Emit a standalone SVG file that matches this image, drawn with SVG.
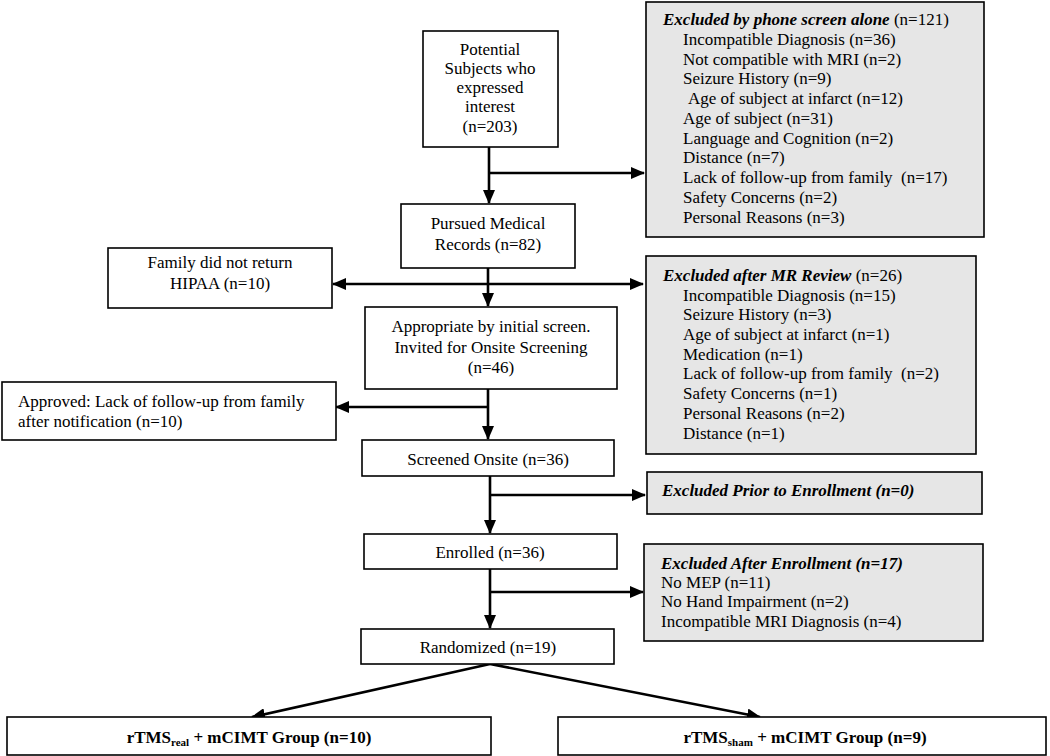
<svg xmlns="http://www.w3.org/2000/svg" width="1050" height="756" viewBox="0 0 1050 756">
<style>
text{font-family:"Liberation Serif","Times New Roman",serif;font-size:17px;fill:#000}
.box{fill:#fff;stroke:#000;stroke-width:1.6}
.gray{fill:#e6e6e6;stroke:#000;stroke-width:1.6}
.c{text-anchor:middle}
.bi{font-weight:bold;font-style:italic}
.b{font-weight:bold}
.con{stroke:#000;stroke-width:2.6;fill:none}
.sub{font-size:11px}
</style>
<defs>
<marker id="ah" markerUnits="userSpaceOnUse" markerWidth="14" markerHeight="12" refX="13" refY="6" orient="auto">
<path d="M0,0 L14,6 L0,12 z" fill="#000"/>
</marker>
</defs>
<rect width="1050" height="756" fill="#fff"/>
<g id="connectors">
<path class="con" d="M489,147 V203" marker-end="url(#ah)"/>
<path class="con" d="M489,173 H644" marker-end="url(#ah)"/>
<path class="con" d="M488,268 V306" marker-end="url(#ah)"/>
<path class="con" d="M488,284 H643" marker-end="url(#ah)"/>
<path class="con" d="M488,284 H333" marker-end="url(#ah)"/>
<path class="con" d="M488,389 V439" marker-end="url(#ah)"/>
<path class="con" d="M488,407 H336" marker-end="url(#ah)"/>
<path class="con" d="M490,476 V533" marker-end="url(#ah)"/>
<path class="con" d="M490,495 H645" marker-end="url(#ah)"/>
<path class="con" d="M490,569 V628" marker-end="url(#ah)"/>
<path class="con" d="M490,592 H643" marker-end="url(#ah)"/>
<path class="con" d="M490,664 L252,717" marker-end="url(#ah)"/>
<path class="con" d="M490,664 L760,717" marker-end="url(#ah)"/>
</g>
<g id="potential">
<rect class="box" x="423" y="31" width="135" height="116"/>
<text class="c" x="490" y="55">Potential</text>
<text class="c" x="490" y="74">Subjects who</text>
<text class="c" x="490" y="93">expressed</text>
<text class="c" x="490" y="112">interest</text>
<text class="c" x="490" y="132">(n=203)</text>
</g>
<g id="pursued">
<rect class="box" x="401" y="204" width="174" height="64"/>
<text class="c" x="488" y="229">Pursued Medical</text>
<text class="c" x="488" y="250">Records (n=82)</text>
</g>
<g id="family">
<rect class="box" x="108" y="248" width="224" height="60"/>
<text class="c" x="220" y="268">Family did not return</text>
<text class="c" x="220" y="289">HIPAA (n=10)</text>
</g>
<g id="appropriate">
<rect class="box" x="365" y="307" width="252" height="82"/>
<text class="c" x="491" y="332">Appropriate by initial screen.</text>
<text class="c" x="491" y="353">Invited for Onsite Screening</text>
<text class="c" x="491" y="373">(n=46)</text>
</g>
<g id="approved">
<rect class="box" x="2" y="382" width="334" height="58"/>
<text x="18" y="407">Approved: Lack of follow-up from family</text>
<text x="18" y="427">after notification (n=10)</text>
</g>
<g id="screened">
<rect class="box" x="362" y="440" width="252" height="36"/>
<text class="c" x="488" y="465">Screened Onsite (n=36)</text>
</g>
<g id="enrolled">
<rect class="box" x="364" y="534" width="253" height="35"/>
<text class="c" x="490" y="558">Enrolled (n=36)</text>
</g>
<g id="randomized">
<rect class="box" x="361" y="629" width="253" height="35"/>
<text class="c" x="488" y="653">Randomized (n=19)</text>
</g>
<g id="excl-phone">
<rect class="gray" x="646" y="2" width="338" height="235"/>
<text x="663" y="25"><tspan class="bi">Excluded by phone screen alone</tspan> (n=121)</text>
<text x="683" y="45">Incompatible Diagnosis (n=36)</text>
<text x="683" y="65">Not compatible with MRI (n=2)</text>
<text x="683" y="84">Seizure History (n=9)</text>
<text x="688" y="104">Age of subject at infarct (n=12)</text>
<text x="683" y="124">Age of subject (n=31)</text>
<text x="683" y="144">Language and Cognition (n=2)</text>
<text x="683" y="163">Distance (n=7)</text>
<text x="683" y="183" xml:space="preserve">Lack of follow-up from family  (n=17)</text>
<text x="683" y="203">Safety Concerns (n=2)</text>
<text x="683" y="223">Personal Reasons (n=3)</text>
</g>
<g id="excl-mr">
<rect class="gray" x="646" y="256" width="330" height="198"/>
<text x="663" y="281"><tspan class="bi">Excluded after MR Review</tspan> (n=26)</text>
<text x="683" y="301">Incompatible Diagnosis (n=15)</text>
<text x="683" y="320">Seizure History (n=3)</text>
<text x="683" y="340">Age of subject at infarct (n=1)</text>
<text x="683" y="360">Medication (n=1)</text>
<text x="683" y="379" xml:space="preserve">Lack of follow-up from family  (n=2)</text>
<text x="683" y="399">Safety Concerns (n=1)</text>
<text x="683" y="419">Personal Reasons (n=2)</text>
<text x="683" y="439">Distance (n=1)</text>
</g>
<g id="excl-prior">
<rect class="gray" x="647" y="472" width="335" height="42"/>
<text class="bi" x="662" y="496">Excluded Prior to Enrollment (n=0)</text>
</g>
<g id="excl-after">
<rect class="gray" x="644" y="544" width="339" height="97"/>
<text class="bi" x="661" y="569">Excluded After Enrollment (n=17)</text>
<text x="661" y="588">No MEP (n=11)</text>
<text x="661" y="607">No Hand Impairment (n=2)</text>
<text x="661" y="627">Incompatible MRI Diagnosis (n=4)</text>
</g>
<g id="group-real">
<rect class="box" x="7" y="717" width="484" height="38"/>
<text class="c b" x="249" y="743">rTMS<tspan class="sub" dy="3">real</tspan><tspan dy="-3"> + mCIMT Group (n=10)</tspan></text>
</g>
<g id="group-sham">
<rect class="box" x="558" y="717" width="488" height="38"/>
<text class="c b" x="805" y="743">rTMS<tspan class="sub" dy="3">sham</tspan><tspan dy="-3"> + mCIMT Group (n=9)</tspan></text>
</g>
</svg>
